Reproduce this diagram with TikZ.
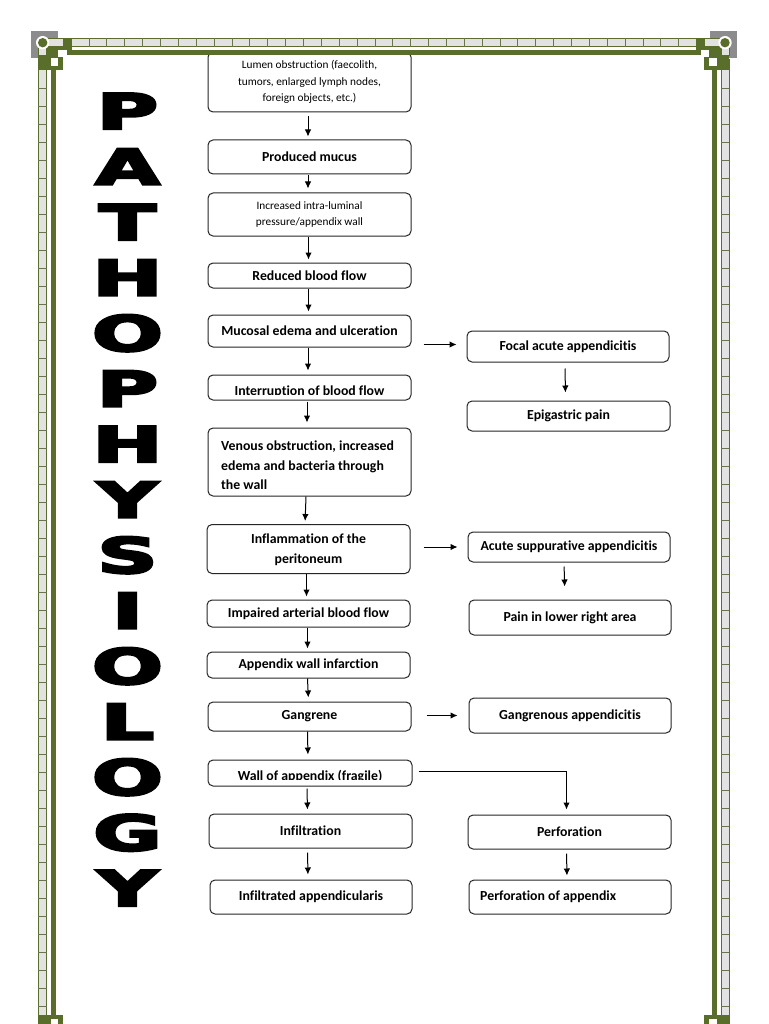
\documentclass[tikz,border=0pt]{standalone}
\usepackage{fontspec}
\setmainfont{Carlito}[Ligatures=NoCommon]
\newfontfamily\ttlfont[FakeBold=4.5]{DejaVu Sans Bold}
\usetikzlibrary{arrows.meta}
\definecolor{bgreen}{HTML}{5A6E2C}
\definecolor{tilegray}{HTML}{E2E2E2}
\definecolor{cornergray}{HTML}{8C8C8C}
\definecolor{boxline}{HTML}{262626}
\tikzset{
  box/.style={draw=boxline, line width=1pt, rounded corners=5pt, fill=white, inner sep=0pt, align=center},
  bt/.style={font=\bfseries\fontsize{13.8}{20}\selectfont},
  st/.style={font=\fontsize{11.3}{16.6}\selectfont},
  arr/.style={-{Latex[length=7pt,width=6.5pt]}, line width=1pt},
  ttl/.style={font=\ttlfont\fontsize{49}{49}\selectfont, inner sep=0pt},
  sep/.style={draw=bgreen!60!gray, line width=0.8pt},
  strip/.style={fill=tilegray, draw=bgreen, line width=1pt}
}
\newcommand\mkbox[7][]{\node[box,#1,minimum width={#5-#3},minimum height={#6-#4}] (#2) at ({(#3+#5)/2},{(#4+#6)/2}) {#7};}
\newcommand\cornerdeco{%
  \fill[cornergray] (31,31) rectangle (58,58);
  \draw[strip] (42.7,38.3) rectangle (63.3,46.7);
  \draw[strip] (38.3,42.7) rectangle (46.7,56);
  \fill[bgreen] (63.3,38.3) rectangle (71.7,55);
  \fill[bgreen] (46.7,46.7) rectangle (71.7,55);
  \fill[bgreen] (38.3,55) rectangle (63.3,70);
  \fill[white] (58.3,50) rectangle (66.7,57.3);
  \fill[white] (50.7,58.3) rectangle (58.3,65.7);
  \fill[white] (42.7,42.7) circle (6.7);
  \fill[bgreen] (42.7,42.7) circle (4.7);
}
\begin{document}
\begin{tikzpicture}[x=1pt,y=-1pt]
\useasboundingbox (0,0) rectangle (768,1024);
\clip (0,0) rectangle (768,1024);
\fill[white] (0,0) rectangle (768,1024);

% ---------- title letters ----------
\foreach \l [count=\i from 0] in {P,A,T,H,O,P,H,Y,S,I,O,L,O,G,Y}
  \node[ttl, anchor=base] (t\i) at (127.5,{111+55.5*\i+18}) {\scalebox{1.7}[1]{\l}};

% ---------- left column ----------
\mkbox[st]{b1}{208}{52}{411}{112}{Lumen obstruction (faecolith,\\tumors, enlarged lymph nodes,\\foreign objects, etc.)}
\mkbox[bt]{b2}{208}{140}{411}{174}{Produced mucus}
\mkbox[st]{b3}{208}{193}{411}{236}{Increased intra-luminal\\pressure/appendix wall}
\mkbox[bt]{b4}{208}{263}{411}{288}{Reduced blood flow}
\mkbox[bt]{b5}{208}{315}{411}{347}{Mucosal edema and ulceration}
\mkbox{b6}{208}{375}{411}{400}{}
\begin{scope}
  \clip (209,376) rectangle (410,394.6);
  \node[bt, anchor=base, inner sep=0pt] at (b6.center |- 0,395) {Interruption of blood flow};
\end{scope}
\mkbox{b7}{208}{428}{411}{496}{}
\begin{scope}
  \clip (209,429) rectangle (410,488.6);
  \node[bt, anchor=base west, inner sep=0pt] at (221,450.5) {Venous obstruction, increased};
  \node[bt, anchor=base west, inner sep=0pt] at (221,470) {edema and bacteria through};
  \node[bt, anchor=base west, inner sep=0pt] at (221,489) {the wall};
\end{scope}
\mkbox[bt, text depth=0pt, yshift=-1.5pt]{b8}{207}{523}{410}{572}{Inflammation of the\\peritoneum}
\mkbox[bt]{b9}{207}{600}{410}{627}{Impaired arterial blood flow}
\mkbox[bt]{b10}{207}{652}{410}{678}{Appendix wall infarction}
\mkbox[bt]{b11}{208}{702}{411}{731}{Gangrene}
\mkbox{b12}{208}{760}{412}{786}{}
\begin{scope}
  \clip (209,761) rectangle (411,779.6);
  \node[bt, anchor=base, inner sep=0pt] at (b12.center |- 0,780) {Wall of appendix (fragile)};
\end{scope}
\mkbox[bt]{b13}{209}{814}{412}{848}{Infiltration}
\mkbox[bt]{b14}{210}{880}{412}{914}{Infiltrated appendicularis}

% ---------- right column ----------
\mkbox[bt]{r1}{467}{331}{669}{362}{Focal acute appendicitis}
\mkbox[bt]{r2}{467}{401}{670}{431}{Epigastric pain}
\mkbox[bt]{r3}{468}{532}{670}{562}{Acute suppurative appendicitis}
\mkbox[bt]{r4}{469}{600}{671}{635}{Pain in lower right area}
\mkbox[bt]{r5}{469}{698}{671}{733}{Gangrenous appendicitis}
\mkbox[bt]{r6}{468}{815}{671}{849}{Perforation}
\mkbox{r7}{469}{880}{671}{914}{}
\node[bt, anchor=west, inner sep=0pt] (r7t) at (480,897) {Perforation of appendix};

% ---------- arrows ----------
\draw[arr, shorten <=4pt, shorten >=3pt] ([xshift=-1.5pt]b1.south) -- ([xshift=-1.5pt]b2.north);
\draw[arr, shorten <=1pt, shorten >=4pt] ([xshift=-1.5pt]b2.south) -- ([xshift=-1.5pt]b3.north);
\draw[arr, shorten <=0pt, shorten >=3pt] ([xshift=-1pt]b3.south) -- ([xshift=-1pt]b4.north);
\draw[arr, shorten <=0pt, shorten >=3pt] ([xshift=-1pt]b4.south) -- ([xshift=-1pt]b5.north);
\draw[arr, shorten <=0pt, shorten >=4pt] ([xshift=-1.5pt]b5.south) -- ([xshift=-1.5pt]b6.north);
\draw[arr, shorten <=1pt, shorten >=5pt] ([xshift=-2.5pt]b6.south) -- ([xshift=-2.5pt]b7.north);
\draw[arr, shorten <=0pt, shorten >=3pt] ([xshift=-3.5pt]b7.south) -- ([xshift=-3.5pt]b8.north);
\draw[arr, shorten <=0pt, shorten >=3pt] ([xshift=-2pt]b8.south) -- ([xshift=-2pt]b9.north);
\draw[arr, shorten <=0pt, shorten >=3pt] ([xshift=-1pt]b9.south) -- ([xshift=-1pt]b10.north);
\draw[arr, shorten <=0pt, shorten >=4pt] ([xshift=-1pt]b10.south) -- ([xshift=-1pt]b11.north);
\draw[arr, shorten <=0pt, shorten >=5pt] ([xshift=-2pt]b11.south) -- ([xshift=-2pt]b12.north);
\draw[arr, shorten <=2pt, shorten >=4pt] ([xshift=-3pt]b12.south) -- ([xshift=-3pt]b13.north);
\draw[arr, shorten <=4pt, shorten >=5pt] ([xshift=-3pt]b13.south) -- ([xshift=-3pt]b14.north);
\draw[arr, shorten <=6pt, shorten >=8pt] ([xshift=-3pt]r1.south) -- ([xshift=-3pt]r2.north);
\draw[arr, shorten <=4pt, shorten >=13pt] ([xshift=-5pt]r3.south) -- ([xshift=-5pt]r4.north);
\draw[arr, shorten <=4pt, shorten >=4pt] ([xshift=-3pt]r6.south) -- ([xshift=-3pt]r7.north);
\draw[arr, shorten <=12pt, shorten >=10pt] ([yshift=2pt]b5.east |- r1.west) -- ([yshift=2pt]r1.west);
\draw[arr, shorten <=13pt, shorten >=10pt] (b8.east |- r3.west) -- (r3.west);
\draw[arr, shorten <=15pt, shorten >=11pt] (b11.east |- r5.west) -- (r5.west);
\draw[arr, shorten <=6pt, shorten >=5pt] ([yshift=2pt]b12.east) -| ([xshift=-3pt]r6.north);

% ---------- border ----------
\draw[strip] (63,38.3) rectangle (705,46.7);
\foreach \i in {0,...,33} \draw[sep] ({89+\i*17.87},38.3) -- ({89+\i*17.87},46.7);
\draw[strip] (38.3,60) rectangle (46.7,1030);
\draw[strip] (721,60) rectangle (729.4,1030);
\foreach \i in {0,...,52} {
  \draw[sep] (38.3,{88+\i*18}) -- (46.7,{88+\i*18});
  \draw[sep] (721,{88+\i*18}) -- (729.4,{88+\i*18});
}
\fill[bgreen] (50.7,50) rectangle (717,55);
\fill[bgreen] (50.7,50) rectangle (55.7,1030);
\fill[bgreen] (712,50) rectangle (717,1030);
\cornerdeco
\begin{scope}[shift={(767.7,0)}, xscale=-1]\cornerdeco\end{scope}
\begin{scope}[shift={(0,1085)}, yscale=-1]\cornerdeco\end{scope}
\begin{scope}[shift={(767.7,1085)}, xscale=-1, yscale=-1]\cornerdeco\end{scope}
\end{tikzpicture}
\end{document}
